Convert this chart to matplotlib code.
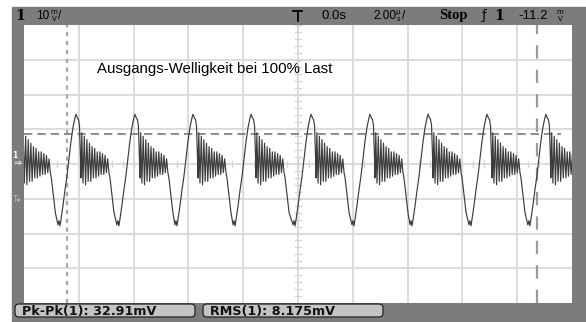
import numpy as np
import matplotlib
matplotlib.use("Agg")
import matplotlib.pyplot as plt
from matplotlib.patches import Rectangle, FancyBboxPatch

# scope settings
volts_per_div = 10      # mV/div
time_per_div = 2.0      # us/div
trig_level = "-11.2"
pk_pk = "32.91mV"
rms = "8.175mV"
title = "Ausgangs-Welligkeit bei 100% Last"

# one ripple cycle, starting at the trough: time (us) / voltage (mV)
cycle_t = [0.000, 0.036, 0.073, 0.109, 0.182, 0.255, 0.328, 0.401, 0.474, 0.547,
           0.620, 0.657, 0.712, 0.748, 0.785, 0.821, 0.839, 0.869, 0.912, 0.960,
           1.007, 1.055, 1.102, 1.150, 1.197, 1.245, 1.292, 1.339, 1.387, 1.434,
           1.482, 1.529, 1.577, 1.624, 1.672, 1.719, 1.766, 1.814, 1.861, 1.898,
           1.971, 2.044]
cycle_v = [-17.5, -16.3, -17.8, -16.0, -12.0, -7.5, -3.5, 1.5, 6.5, 10.5,
           13.3, 14.3, 13.2, 12.8, 11.0, 2.0, -4.0, 9.0, -5.5, 8.0,
           -6.0, 7.0, -5.0, 6.0, -5.0, 5.0, -4.0, 4.5, -4.0, 3.5,
           -3.5, 3.5, -3.0, 3.0, -3.0, 2.5, -2.5, 1.5, -2.5, -4.0,
           -9.0, -14.0]
# trough positions of each cycle on screen (us)
troughs = [-10.90, -8.76, -6.61, -4.49, -2.37, -0.18, 1.97, 4.09, 6.24, 8.39]

# cursors
cur_x1, cur_x2 = -8.43, 8.72
cur_y = 8.6

W, H = 586, 322
fig = plt.figure(figsize=(W / 100, H / 100), dpi=100)
fig.patch.set_facecolor("white")

# grey bezel in a background axes, pixel coordinates
bg = fig.add_axes([0, 0, 1, 1], zorder=0)
bg.set_xlim(0, W)
bg.set_ylim(H, 0)
bg.axis("off")
bg.add_patch(Rectangle((12, 7), W - 12, H - 7, color="#7c7c7c"))

ax = fig.add_axes([24 / W, 1 - 303 / H, 548 / W, 278 / H], zorder=1)
ax.set_facecolor("white")
ax.set_xlim(-5 * time_per_div, 5 * time_per_div)
ax.set_ylim(-4 * volts_per_div, 4 * volts_per_div)
ax.set_xticks([])
ax.set_yticks([])
for s in ax.spines.values():
    s.set_visible(False)

gc = "#d6d6d6"
for x in np.arange(-8, 9, 2):
    ax.axvline(x, color=gc, lw=1.2, zorder=1)
for y in np.arange(-30, 31, 10):
    ax.axhline(y, color=gc, lw=1.2, zorder=1)
# minor ticks on the centre axes
for x in np.arange(-10, 10.01, 0.4):
    ax.plot([x, x], [-1.0, 1.0], color=gc, lw=1.0, zorder=1)
for y in np.arange(-40, 40.01, 2):
    ax.plot([-0.11, 0.11], [y, y], color=gc, lw=1.0, zorder=1)

# cursors
ax.axvline(cur_x1, color="#a8a8a8", lw=1.6, ls=(0, (2, 2)), zorder=2)
ax.axvline(cur_x2, color="#9a9a9a", lw=1.6, ls=(0, (6, 5)), zorder=2)
ax.plot([-10, 9.6], [cur_y, cur_y], color="#7a7a7a", lw=1.2, ls=(0, (5, 3)), zorder=2)

# trace
t, v = [], []
for t0 in troughs:
    t += [t0 + c for c in cycle_t]
    v += cycle_v
ax.plot(t, v, color="#3c3c3c", lw=0.85, zorder=3)

ax.text(-7.34, 27.3, title, fontsize=10.8, family="Liberation Sans",
        ha="left", va="center", color="black", zorder=4)

# top status line
def stacked(x, y, top, bot):
    bg.text(x, y - 3.4, top, fontsize=5, ha="center", va="center")
    bg.text(x, y + 3.8, bot, fontsize=5, ha="center", va="center")

ty = 15.5
fs = 8.5
bg.text(15, ty, "1", fontsize=10, weight="bold", family="DejaVu Serif", va="center")
bg.text(36, ty, "10", fontsize=fs, family="Liberation Sans", va="center")
stacked(54, ty, "m", "V")
bg.text(58, ty, "/", fontsize=fs, family="Liberation Sans", va="center")

bg.plot([293, 302], [11, 11], color="black", lw=1.3)
bg.plot([297.5, 297.5], [11, 21], color="black", lw=1.3)
bg.text(321, ty, "0.0s", fontsize=9.5, family="Liberation Sans", va="center")
bg.text(373, ty, "2.00", fontsize=fs, family="Liberation Sans", va="center")
stacked(398, ty, "µ", "s")
bg.text(402, ty, "/", fontsize=fs, family="Liberation Sans", va="center")
bg.text(439, ty, "Stop", fontsize=10.5, weight="bold", family="Liberation Serif", va="center")
bg.text(482, ty, "ƒ", fontsize=9.5, va="center")
bg.text(494, ty, "1", fontsize=10, weight="bold", family="DejaVu Serif", va="center")
bg.text(518, ty, trig_level, fontsize=9.5, family="Liberation Sans", va="center")
stacked(560, ty, "m", "V")

# channel / trigger markers on the left bezel
bg.text(15, 155, "1", fontsize=5.5, color="white", weight="bold", ha="center", va="center")
bg.text(18, 163, "⇒", fontsize=7, color="white", ha="center", va="center")
bg.text(17, 199, "T▸", fontsize=6, color="#b4b4b4", ha="center", va="center")

# measurement boxes
for x0, label in [(15, "Pk-Pk(1): " + pk_pk), (203, "RMS(1): " + rms)]:
    bg.add_patch(FancyBboxPatch((x0, 304), 180, 13,
                                boxstyle="round,pad=0,rounding_size=4",
                                fc="#c4c4c4", ec="#222222", lw=0.9))
    bg.text(x0 + 7, 311, label, fontsize=9.2, weight="bold",
            family="DejaVu Sans", color="#111111", va="center")

fig.savefig("out.png", dpi=100)
